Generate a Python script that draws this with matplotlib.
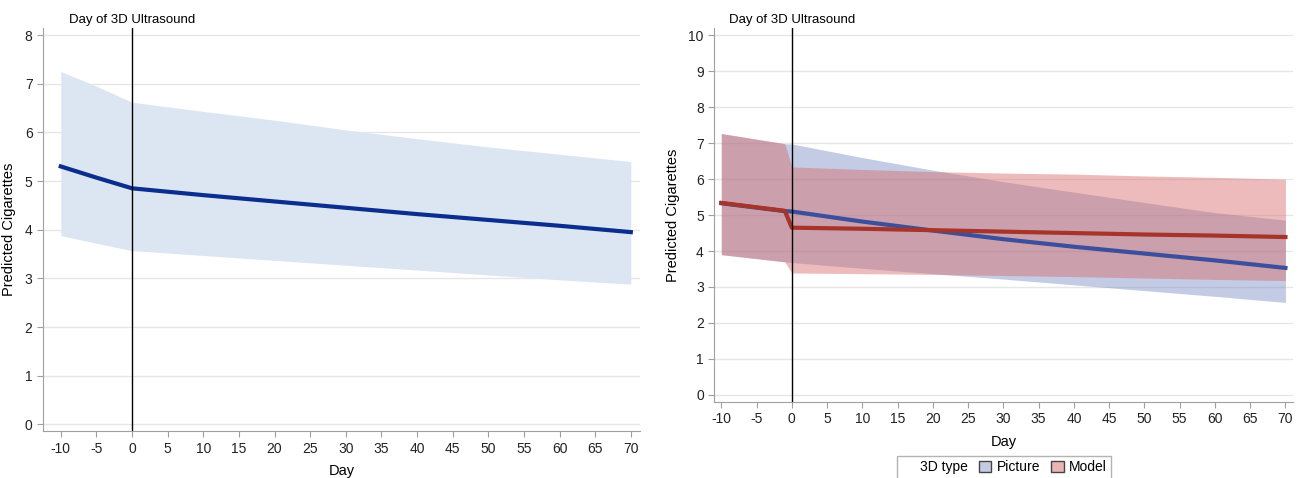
import matplotlib
matplotlib.use("Agg")
import matplotlib.pyplot as plt
from matplotlib.patches import Patch

plt.rcParams['font.family'] = ['Liberation Sans Narrow', 'Liberation Sans', 'DejaVu Sans']
plt.rcParams['font.size'] = 9
plt.rcParams['axes.unicode_minus'] = False

# left panel: overall prediction
days_all = [-10, -5, 0, 10, 20, 30, 40, 50, 60, 70]
pred_all = [5.30, 5.07, 4.85, 4.71, 4.58, 4.45, 4.32, 4.20, 4.08, 3.95]
upper_all = [7.25, 6.95, 6.62, 6.43, 6.25, 6.05, 5.87, 5.70, 5.55, 5.40]
lower_all = [3.88, 3.72, 3.57, 3.47, 3.37, 3.27, 3.17, 3.07, 2.97, 2.88]

# right panel: by 3D type
days_pic = [-10, -1, 0, 10, 20, 30, 40, 50, 60, 70]
pred_pic = [5.33, 5.11, 5.10, 4.82, 4.57, 4.33, 4.12, 3.93, 3.74, 3.53]
upper_pic = [7.27, 6.98, 6.98, 6.60, 6.25, 5.93, 5.64, 5.35, 5.07, 4.86]
lower_pic = [3.90, 3.70, 3.68, 3.52, 3.37, 3.22, 3.06, 2.90, 2.74, 2.57]

days_mod = [-10, -1, 0, 10, 20, 30, 40, 50, 60, 70]
pred_mod = [5.34, 5.12, 4.65, 4.62, 4.58, 4.54, 4.50, 4.46, 4.43, 4.39]
upper_mod = [7.27, 6.99, 6.34, 6.27, 6.21, 6.17, 6.14, 6.09, 6.05, 6.00]
lower_mod = [3.90, 3.70, 3.39, 3.37, 3.35, 3.32, 3.29, 3.25, 3.21, 3.18]

xticks = list(range(-10, 71, 5))

fig = plt.figure(figsize=(13.01, 4.78), dpi=100)
ax1 = fig.add_axes([0.033, 0.098, 0.459, 0.843])
ax2 = fig.add_axes([0.549, 0.159, 0.445, 0.782])


def style(ax, ymax):
    for s in ['top', 'right']:
        ax.spines[s].set_visible(False)
    for s in ['left', 'bottom']:
        ax.spines[s].set_color('#a0a0a0')
    ax.tick_params(colors='#a0a0a0', labelcolor='#222222', length=4, labelsize=10)
    ax.set_xticks(xticks)
    ax.set_yticks(range(0, ymax + 1))
    ax.yaxis.grid(True, color='#e6e6e6', lw=1)
    ax.set_axisbelow(True)
    ax.set_xlabel('Day', fontsize=10.5, labelpad=6)
    ax.set_ylabel('Predicted Cigarettes', fontsize=10.5, labelpad=6)
    ax.axvline(0, color='black', lw=1)
    ax.text(0, 1.005, 'Day of 3D Ultrasound', transform=ax.get_xaxis_transform(),
            ha='center', va='bottom', fontsize=9.5)


ax1.fill_between(days_all, lower_all, upper_all, color='#dce6f2', lw=0)
ax1.plot(days_all, pred_all, color='#0b2e8e', lw=3)
ax1.set_xlim(-12.5, 71.3)
ax1.set_ylim(-0.14, 8.14)
style(ax1, 8)

ax2.fill_between(days_pic, lower_pic, upper_pic, color='#6a7fc0', alpha=0.4, lw=0)
ax2.fill_between(days_mod, lower_mod, upper_mod, color='#d86a6a', alpha=0.45, lw=0)
ax2.plot(days_pic, pred_pic, color='#3b4f9c', lw=3)
ax2.plot(days_mod, pred_mod, color='#a63428', lw=3)
ax2.set_xlim(-11.0, 71.1)
ax2.set_ylim(-0.2, 10.2)
style(ax2, 10)

handles = [Patch(visible=False),
           Patch(facecolor='#c5cbe3', edgecolor='#444444'),
           Patch(facecolor='#ebb5b5', edgecolor='#444444')]
leg = fig.legend(handles, ['3D type', 'Picture', 'Model'], loc='center',
                 bbox_to_anchor=(0.772, 0.022), ncol=3, fontsize=10,
                 frameon=True, fancybox=False, edgecolor='#a0a0a0',
                 handlelength=0.9, handleheight=0.9, handletextpad=0.4,
                 columnspacing=0.8, borderpad=0.3)

fig.savefig('out.png', dpi=100)
